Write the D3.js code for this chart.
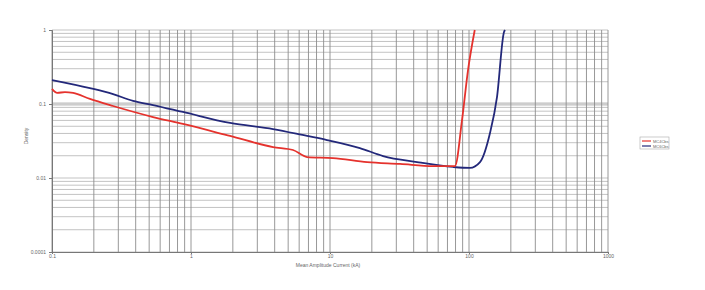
<!DOCTYPE html>
<html>
<head>
<meta charset="utf-8">
<script src="https://cdn.jsdelivr.net/npm/d3@7"></script>
<style>
  body { margin: 0; background: #fff; }
  svg { display: block; font-family: "Liberation Sans", Arial, sans-serif; }
</style>
</head>
<body>
<svg id="chart" width="705" height="290"></svg>
<script>
// series (x = current, y = value)
const seriesNames = ["MC4Cbs", "MC6Cbs"];
const redX = [0.1, 0.109, 0.124, 0.142, 0.1875, 0.275, 0.533, 0.875, 1.91, 3.89, 5.42, 6.84, 10.5, 18.5, 31.9, 55.1, 79.3, 89.1, 98.4, 110];
const redY = [0.160, 0.141, 0.145, 0.141, 0.117, 0.094, 0.0667, 0.0537, 0.037, 0.0262, 0.0239, 0.0192, 0.0186, 0.0164, 0.0155, 0.0145, 0.0145, 0.0608, 0.288, 1.0];
const blueX = [0.1, 0.1875, 0.275, 0.383, 0.533, 0.875, 1.91, 3.89, 6.84, 9.5, 16.4, 24.1, 42.3, 76.7, 101.6, 120, 141.6, 159, 178.6, 181.5];
const blueY = [0.211, 0.164, 0.136, 0.110, 0.0969, 0.078, 0.0554, 0.0459, 0.037, 0.0326, 0.0254, 0.0198, 0.0164, 0.0141, 0.0137, 0.0164, 0.0406, 0.124, 0.94, 1.0];
const xTicks = [0.1, 1, 10, 100, 1000];
const xTickLabels = ["0.1", "1", "10", "100", "1000"];
const yTicks = [1, 0.1, 0.01, 0.001];
const yTickLabels = ["1", "0.1", "0.01", "0.0001"];

const svg = d3.select("#chart");
const margin = { top: 30, right: 97, bottom: 38, left: 52 };
const width = 705, height = 290;

const x = d3.scaleLog().domain([0.1, 1000]).range([margin.left, width - margin.right]);
const y = d3.scaleLog().domain([0.001, 1]).range([height - margin.bottom, margin.top]);

// minor + major grid values
const gridX = [];
for (let d = 0.1; d < 1000; d *= 10) for (let k = 1; k < 10; k++) gridX.push(d * k);
gridX.push(1000);
const gridY = [];
for (let d = 0.001; d < 1; d *= 10) for (let k = 1; k < 10; k++) gridY.push(d * k);
gridY.push(1);

const grid = svg.append("g");
// light band on the 0.1 line
grid.append("line")
  .attr("x1", x(0.1)).attr("x2", x(1000))
  .attr("y1", y(0.1)).attr("y2", y(0.1))
  .attr("stroke", "#dedede").attr("stroke-width", 4);

grid.selectAll(".hg").data(gridY).join("line")
  .attr("class", "hg")
  .attr("x1", x(0.1)).attr("x2", x(1000))
  .attr("y1", d => y(d)).attr("y2", d => y(d))
  .attr("stroke", "#b4b4b4").attr("stroke-width", 0.8);

grid.selectAll(".vg").data(gridX).join("line")
  .attr("class", "vg")
  .attr("x1", d => x(d)).attr("x2", d => x(d))
  .attr("y1", y(1)).attr("y2", y(0.001))
  .attr("stroke", "#8c8c8c").attr("stroke-width", 0.9);

// axes (labels only)
const xAxis = svg.append("g")
  .attr("transform", `translate(0,${y(0.001)})`)
  .call(d3.axisBottom(x).tickValues(xTicks).tickFormat((d, i) => xTickLabels[i]).tickSize(2));
const yAxis = svg.append("g")
  .attr("transform", `translate(${x(0.1)},0)`)
  .call(d3.axisLeft(y).tickValues(yTicks).tickFormat((d, i) => yTickLabels[i]).tickSize(3));
[xAxis, yAxis].forEach(g => {
  g.select(".domain").attr("stroke", "#777");
  g.selectAll(".tick line").attr("stroke", "#777");
  g.selectAll("text").attr("fill", "#666").attr("font-size", 5);
});
xAxis.selectAll("text").attr("y", 3).attr("dy", "0.6em");

svg.append("text")
  .attr("x", 328).attr("y", 267)
  .attr("text-anchor", "middle")
  .attr("font-size", 5).attr("fill", "#666")
  .text("Mean Amplitude Current (kA)");

svg.append("text")
  .attr("transform", `translate(28,${(y(1) + y(0.001)) / 2 - 5}) rotate(-90)`)
  .attr("text-anchor", "middle")
  .attr("font-size", 5).attr("fill", "#666")
  .text("Density");

const line = d3.line().x(d => x(d[0])).y(d => y(d[1])).curve(d3.curveMonotoneX);

svg.append("path")
  .datum(blueX.map((v, i) => [v, blueY[i]]))
  .attr("fill", "none").attr("stroke", "#23287a").attr("stroke-width", 1.8)
  .attr("d", line);
svg.append("path")
  .datum(redX.map((v, i) => [v, redY[i]]))
  .attr("fill", "none").attr("stroke", "#e5322d").attr("stroke-width", 1.8)
  .attr("d", line);

// legend
const legend = svg.append("g").attr("transform", "translate(640,137)");
legend.append("rect").attr("width", 29).attr("height", 12)
  .attr("fill", "#fff").attr("stroke", "#aaa").attr("stroke-width", 0.6);
const colors = ["#e5322d", "#23287a"];
seriesNames.forEach((name, i) => {
  const g = legend.append("g").attr("transform", `translate(2,${4 + i * 5})`);
  g.append("line").attr("x1", 0).attr("x2", 9).attr("stroke", colors[i]).attr("stroke-width", 1.2);
  g.append("text").attr("x", 11).attr("y", 1.5).attr("font-size", 4).attr("fill", "#666").text(name);
});
</script>
</body>
</html>
